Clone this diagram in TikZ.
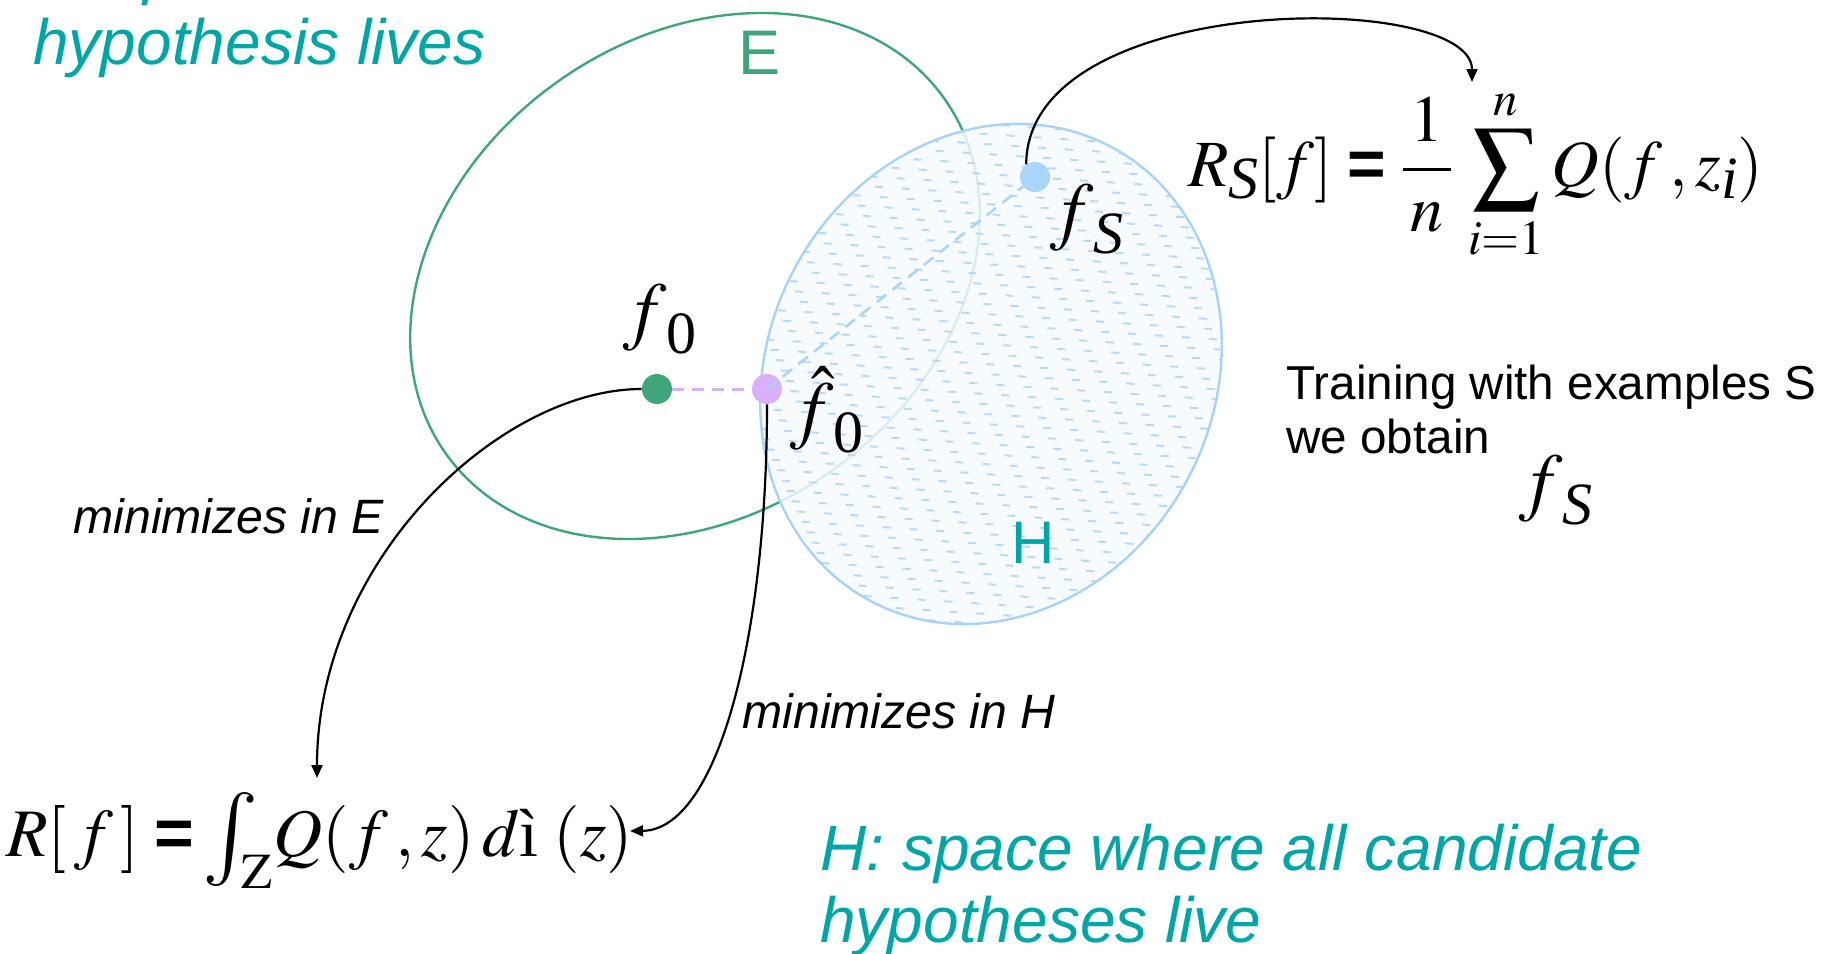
\documentclass[tikz,border=0pt]{standalone}
\usepackage{mathptmx}
\usepackage[no-math]{fontspec}
\setmainfont{Liberation Sans}
\newfontfamily\tnr{Liberation Serif}
\usetikzlibrary{arrows.meta}
\definecolor{egreen}{HTML}{3FA679}
\definecolor{tealc}{HTML}{00A6A6}
\definecolor{hblue}{HTML}{A8D3F8}
\definecolor{hdash}{HTML}{B8DAF9}
\definecolor{hfill}{HTML}{F6FAFE}
\definecolor{lilac}{HTML}{D8B1FA}
\definecolor{sblue}{HTML}{AAD5FA}
% large subscript, MathType style
\newcommand\bigsub[2]{\lower#1\hbox{\fontsize{30}{32}\selectfont\tnr #2}}
\newcommand\eqs{\mathrel{\hbox{\bfseries =}}}
\newcommand\bigint{\mathop{\vcenter{\hbox{\fontsize{47}{50}\selectfont$\int$}}}\nolimits}
\begin{document}
\begin{tikzpicture}[x=0.5pt,y=-0.5pt,
  dot/.style={circle, inner sep=0pt, minimum size=15pt, draw=none},
  conn/.style={draw=black, line width=1.1pt, -{Triangle[length=6.5pt,width=5.5pt]}},
  hatch/.style={draw=hdash, line width=1pt, dash pattern=on 4pt off 9.5pt},
  sanslbl/.style={inner sep=0pt, font=\fontsize{24.1}{28}\selectfont\itshape},
  bigteal/.style={inner sep=0pt, text=tealc, font=\fontsize{32}{36}\selectfont\itshape},
  mlbl/.style={inner sep=0pt, font=\fontsize{38}{42}\selectfont},
]
\useasboundingbox (0,0) rectangle (1823,953);
% E region
\draw[egreen, line width=1.2pt, shift={(695,276)}, rotate=35.6] (0,0) ellipse (306 and 238);
% H region
\begin{scope}
  \clip[shift={(991,374)}, rotate=62.3] (0,0) ellipse (257 and 223);
  \fill[hfill, fill opacity=0.85] (700,100) rectangle (1300,650);
  \foreach \r in {0,...,58} {
    \pgfmathsetmacro\ph{mod(\r*11,13.5)}
    \draw[hatch, dash phase=\ph pt] (700,95+\r*10) -- ++(600,40);
  }
\end{scope}
\draw[hblue, line width=1.2pt, shift={(991,374)}, rotate=62.3] (0,0) ellipse (257 and 223);
% points
\node[dot, fill=egreen] (f0) at (657,389) {};
\node[dot, fill=lilac] (f0h) at (767,389) {};
\node[dot, fill=sblue] (fS) at (1035,177) {};
\draw[lilac, line width=1.5pt, dash pattern=on 6pt off 4pt] (f0) -- (f0h);
\draw[sblue, line width=1.3pt, dash pattern=on 6pt off 4pt] (f0h.center) -- (fS);
% connectors
\coordinate (rsT) at (1472,82);
\coordinate (rT) at (317,778);
\coordinate (rE) at (630,831);
\draw[conn] (fS.125) .. controls (1027,-10) and (1472,-10) .. (rsT);
\draw[conn] (f0.west) .. controls (500,389) and (317,560) .. (rT);
\draw[conn] (f0h.south) .. controls (767,640) and (717,830) .. (rE);
% labels
\node[mlbl] (lf0) at (660,319) {$f\bigsub{9pt}{0}$};
\node[mlbl] (lf0h) at (827,410) {$\hat{f}\bigsub{9pt}{0}$};
\node[mlbl] (lfS) at (1087,219) {$f\bigsub{9pt}{\itshape S}$};
\node[mlbl] (lfS2) at (1556,490) {$f\bigsub{9pt}{\itshape S}$};
\node[inner sep=0pt, anchor=base west, font=\fontsize{33}{40}\selectfont] (rs) at (1188,186) {$\displaystyle R\bigsub{6pt}{\itshape S}[f]\eqs\frac{\,1\,}{\,n\,}\,\sum_{i=1}^{n}Q(f\,,z\bigsub{6pt}{\itshape i})$};
\node[inner sep=0pt, anchor=base west, font=\fontsize{34}{42}\selectfont] (rf) at (6,856) {$R[\,f\,]\eqs\!\bigint_{\!\!\!\mathrm{Z}}\!Q(f\,,z)\,d\hbox{\tnr ì}\;(z)$};
\node[sanslbl, anchor=base west] (mE) at (73,533) {minimizes in E};
\node[sanslbl, anchor=base west] (mH) at (742,728) {minimizes in H};
\node[anchor=base west, inner sep=0pt, font=\fontsize{23.8}{27}\selectfont] (tr) at (1286,399) {\begin{tabular}[t]{@{}l@{}}Training with examples S\\we obtain\end{tabular}};
\node[bigteal, anchor=base west] (Htxt) at (820,870) {\begin{tabular}[t]{@{}l@{}}H: space where all candidate\\hypotheses live\end{tabular}};
\node[bigteal, anchor=base west] (Etxt) at (33,-8) {\begin{tabular}[t]{@{}l@{}}E: space where the best\\hypothesis lives\end{tabular}};
\node[text=egreen, font=\fontsize{31.5}{36}\selectfont, inner sep=0pt] (Elbl) at (759,53) {E};
\node[text=tealc, font=\fontsize{30}{36}\selectfont, inner sep=0pt] (Hlbl) at (1033,543) {H};
\end{tikzpicture}
\end{document}
